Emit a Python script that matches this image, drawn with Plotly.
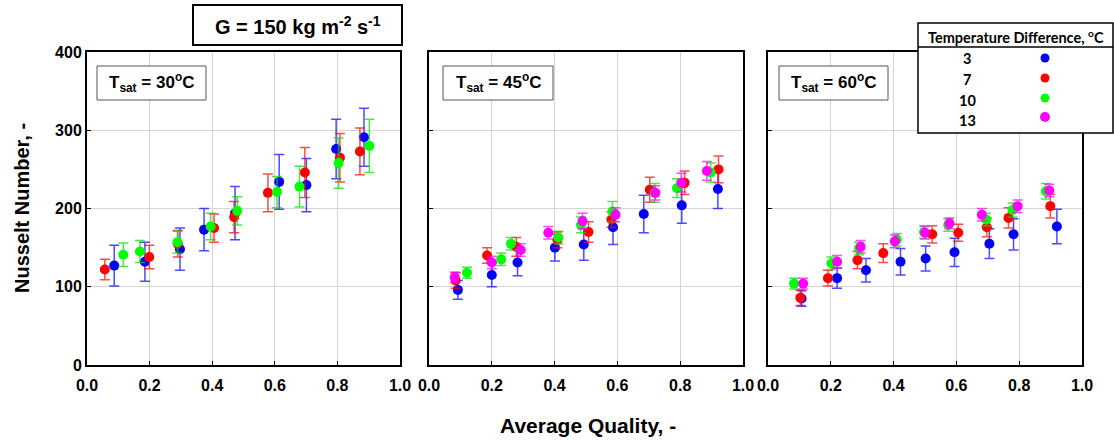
import plotly.graph_objects as go

# ---------------- data ----------------
dT_labels = ["3", "7", "10", "13"]
colors = ["#0000FF", "#FF0000", "#00FF00", "#FF00FF"]
err_colors = ["rgba(0,0,255,0.7)", "rgba(255,0,0,0.7)", "rgba(0,220,0,0.7)", "rgba(255,0,255,0.7)"]
panel_titles = ["T<sub>sat</sub> = 30<sup>o</sup>C", "T<sub>sat</sub> = 45<sup>o</sup>C", "T<sub>sat</sub> = 60<sup>o</sup>C"]

# Tsat = 30 C
p1_x3 = [0.087, 0.185, 0.297, 0.374, 0.473, 0.614, 0.701, 0.796, 0.885]
p1_y3 = [127, 132, 148, 173, 194, 234, 230, 276, 291]
p1_e3 = [26, 25, 27, 27, 34, 35, 34, 38, 37]
p1_x7 = [0.057, 0.199, 0.290, 0.406, 0.470, 0.578, 0.696, 0.808, 0.872]
p1_y7 = [122, 138, 155, 175, 189, 220, 246, 265, 273]
p1_e7 = [13, 15, 17, 18, 20, 24, 32, 31, 30]
p1_x10 = [0.116, 0.169, 0.289, 0.395, 0.480, 0.607, 0.679, 0.804, 0.902]
p1_y10 = [141, 145, 157, 177, 197, 221, 228, 258, 280]
p1_e10 = [15, 14, 14, 17, 18, 20, 26, 32, 34]

# Tsat = 45 C
p2_x3 = [0.092, 0.200, 0.282, 0.401, 0.493, 0.586, 0.684, 0.805, 0.920]
p2_y3 = [96, 115, 131, 150, 154, 176, 193, 204, 225]
p2_e3 = [12, 15, 17, 17, 20, 22, 24, 23, 25]
p2_x7 = [0.085, 0.185, 0.278, 0.409, 0.508, 0.581, 0.703, 0.814, 0.922]
p2_y7 = [108, 140, 151, 160, 170, 186, 224, 233, 250]
p2_e7 = [10, 10, 12, 10, 13, 10, 16, 15, 17]
p2_x10 = [0.121, 0.230, 0.261, 0.412, 0.484, 0.584, 0.719, 0.790, 0.897]
p2_y10 = [118, 135, 155, 163, 179, 196, 220, 226, 246]
p2_e10 = [7, 8, 8, 8, 10, 13, 12, 12, 12]
p2_x13 = [0.082, 0.200, 0.292, 0.380, 0.489, 0.594, 0.721, 0.804, 0.885]
p2_y13 = [112, 131, 147, 169, 184, 192, 220, 233, 248]
p2_e13 = [7, 8, 8, 8, 10, 9, 9, 12, 12]

# Tsat = 60 C
p3_x3 = [0.107, 0.220, 0.312, 0.422, 0.502, 0.594, 0.705, 0.782, 0.920]
p3_y3 = [85, 111, 121, 132, 136, 144, 155, 167, 177]
p3_e3 = [10, 13, 15, 17, 16, 18, 19, 20, 22]
p3_x7 = [0.103, 0.191, 0.285, 0.367, 0.523, 0.606, 0.697, 0.766, 0.899]
p3_y7 = [86, 111, 134, 143, 167, 169, 176, 188, 203]
p3_e7 = [10, 10, 11, 12, 11, 11, 12, 13, 15]
p3_x10 = [0.083, 0.202, 0.290, 0.410, 0.497, 0.574, 0.695, 0.779, 0.885]
p3_y10 = [104, 130, 149, 160, 170, 179, 186, 198, 222]
p3_e10 = [7, 8, 8, 8, 8, 8, 8, 9, 10]
p3_x13 = [0.112, 0.220, 0.295, 0.404, 0.500, 0.578, 0.681, 0.795, 0.896]
p3_y13 = [104, 132, 151, 158, 169, 181, 192, 203, 223]
p3_e13 = [7, 8, 8, 8, 8, 7, 8, 8, 8]

x_ticks = [0.0, 0.2, 0.4, 0.6, 0.8, 1.0]
x_ticklabels = ["0.0", "0.2", "0.4", "0.6", "0.8", "1.0"]
y_ticks = [0, 100, 200, 300, 400]
y_ticklabels = ["0", "100", "200", "300", "400"]

panels = [
    [(p1_x3, p1_y3, p1_e3), (p1_x7, p1_y7, p1_e7), (p1_x10, p1_y10, p1_e10), None],
    [(p2_x3, p2_y3, p2_e3), (p2_x7, p2_y7, p2_e7), (p2_x10, p2_y10, p2_e10), (p2_x13, p2_y13, p2_e13)],
    [(p3_x3, p3_y3, p3_e3), (p3_x7, p3_y7, p3_e7), (p3_x10, p3_y10, p3_e10), (p3_x13, p3_y13, p3_e13)],
]

# ---------------- geometry ----------------
W, H = 1114, 440
ML, MR, MT, MB = 87, 32, 52, 75
PW = W - ML - MR
PH = H - MT - MB


def px(x):
    return (x - ML) / PW


def py(y):
    return (H - MB - y) / PH


domains = [[px(87), px(400)], [px(429), px(743)], [px(768), px(1082)]]

fig = go.Figure()
for i, series in enumerate(panels):
    xa = "x" if i == 0 else f"x{i+1}"
    ya = "y" if i == 0 else f"y{i+1}"
    for j, s in enumerate(series):
        if s is None:
            continue
        xs, ys, es = s
        fig.add_trace(go.Scatter(
            x=xs, y=ys, mode="markers", xaxis=xa, yaxis=ya,
            name=dT_labels[j], showlegend=False,
            marker=dict(color=colors[j], size=10, line=dict(width=0)),
            error_y=dict(type="data", array=es, visible=True,
                         color=err_colors[j], thickness=1.5, width=5),
        ))

axis_font = dict(family="Liberation Sans, Arial, sans-serif", size=16, color="black", weight="bold")
narrow_font = dict(family="Liberation Sans Narrow, Arial Narrow, Liberation Sans, Arial", size=16,
                   color="black", weight="bold")

layout = dict(
    width=W, height=H,
    margin=dict(l=ML, r=MR, t=MT, b=MB),
    paper_bgcolor="white", plot_bgcolor="white",
    showlegend=False,
)
for i in range(3):
    xk = "xaxis" if i == 0 else f"xaxis{i+1}"
    yk = "yaxis" if i == 0 else f"yaxis{i+1}"
    layout[xk] = dict(
        domain=domains[i], range=[0, 1], tickvals=x_ticks, ticktext=x_ticklabels,
        showgrid=True, gridcolor="#d4d4d4", gridwidth=1,
        showline=True, mirror=True, linecolor="black", linewidth=2,
        ticks="inside", ticklen=4, tickcolor="black", tickfont=narrow_font, ticklabelstandoff=5,
        zeroline=False, anchor="y" if i == 0 else f"y{i+1}",
    )
    layout[yk] = dict(
        domain=[0, 1], range=[0, 400], tickvals=y_ticks, ticktext=y_ticklabels,
        showticklabels=(i == 0),
        showgrid=True, gridcolor="#d4d4d4", gridwidth=1,
        showline=True, mirror=True, linecolor="black", linewidth=2,
        ticks="inside", ticklen=4, tickcolor="black", tickfont=axis_font,
        zeroline=False, anchor="x" if i == 0 else f"x{i+1}",
    )
fig.update_layout(**layout)

shapes = []
annotations = []


def ann(x, y, text, font, **kw):
    d = dict(xref="paper", yref="paper", x=px(x), y=py(y), showarrow=False, text=text, font=font,
             xanchor="center", yanchor="middle")
    d.update(kw)
    annotations.append(d)


# Title box
shapes.append(dict(type="rect", xref="paper", yref="paper", x0=px(193), x1=px(402), y0=py(45), y1=py(5),
                   line=dict(color="black", width=2), fillcolor="white", layer="above"))
ann(297.5, 25, "G = 150 kg m<sup>-2</sup> s<sup>-1</sup>",
    dict(family="Liberation Sans, Arial", size=20, color="black", weight="bold"))

# Tsat boxes
tbox = [(97, 206), (443, 553), (779, 888)]
for i, (a, b) in enumerate(tbox):
    shapes.append(dict(type="rect", xref="paper", yref="paper", x0=px(a), x1=px(b), y0=py(100), y1=py(66),
                       line=dict(color="#555555", width=1), fillcolor="white", layer="above"))
    ann((a + b) / 2, 83, panel_titles[i],
        dict(family="Liberation Sans, Arial", size=17, color="black", weight="bold"))

# Legend box
shapes.append(dict(type="rect", xref="paper", yref="paper", x0=px(918), x1=px(1113), y0=py(133), y1=py(23),
                   line=dict(color="black", width=1.5), fillcolor="white", layer="above"))
shapes.append(dict(type="line", xref="paper", yref="paper", x0=px(918), x1=px(1113), y0=py(47), y1=py(47),
                   line=dict(color="black", width=1.5), layer="above"))
leg_font = dict(family="Lato, Open Sans, sans-serif", size=14.5, color="black", weight="bold")
ann(1015.5, 36, "Temperature Difference, <sup>o</sup>C", leg_font)
row_y = [59, 79, 100, 120]
mark_y = [58, 78, 98, 117]
for j in range(4):
    ann(967, row_y[j], dT_labels[j], leg_font)
    r = 4.5 if j < 3 else 5
    shapes.append(dict(type="circle", xref="paper", yref="paper",
                       x0=px(1045 - r), x1=px(1045 + r), y0=py(mark_y[j] + r), y1=py(mark_y[j] - r),
                       fillcolor=colors[j], line=dict(width=0), layer="above"))

# Axis titles
ann(588, 425, "Average Quality, -",
    dict(family="Liberation Sans Narrow, Arial Narrow, Liberation Sans, Arial", size=21, color="black",
         weight="bold"))
ann(22, 208, "Nusselt Number, -",
    dict(family="Liberation Sans, Arial", size=20, color="black", weight="bold"), textangle=-90)

fig.update_layout(shapes=shapes, annotations=annotations)
fig.write_html("out.html", config={"displayModeBar": False},
               post_script="document.body.style.margin='0';document.body.style.overflow='hidden';")
